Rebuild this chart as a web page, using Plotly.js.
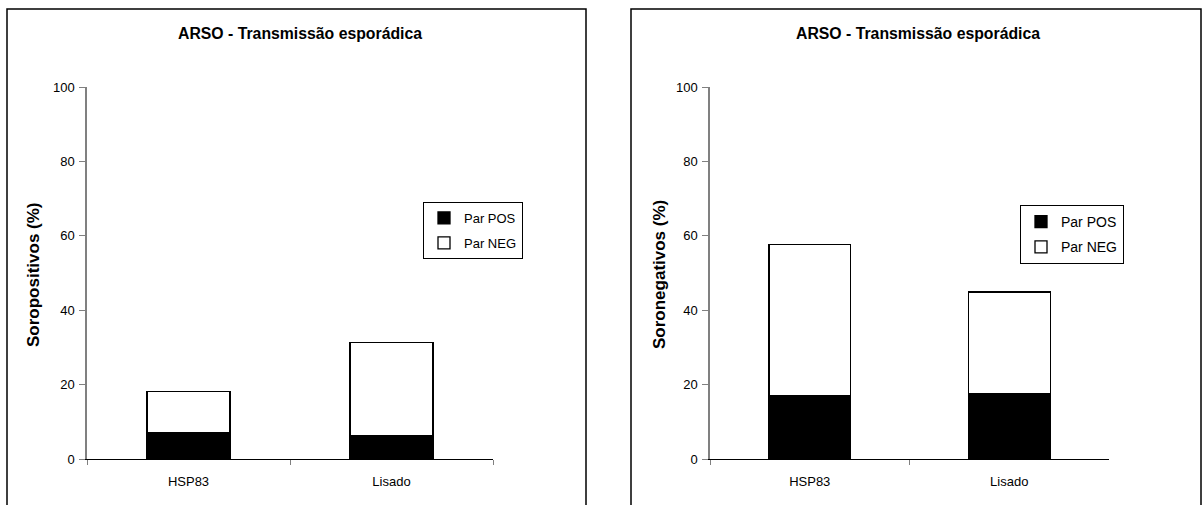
<!DOCTYPE html>
<html>
<head>
<meta charset="utf-8">
<script src="https://cdn.plot.ly/plotly-3.0.1.min.js"></script>
<style>html,body{margin:0;padding:0;background:#fff;}#chart{width:1202px;height:505px;}</style>
</head>
<body>
<div id="chart"></div>
<script>
// Data
const categories = ["HSP83", "Lisado"];
const seroposPOS = [7.0, 6.3];
const seroposNEG = [11.2, 25.1];
const seronegPOS = [16.9, 17.6];
const seronegNEG = [40.8, 27.3];
const seriesNames = ["Par POS", "Par NEG"];
const chartTitle = "ARSO - Transmissão esporádica";
const yTitleLeft = "Soropositivos (%)";
const yTitleRight = "Soronegativos (%)";
const yTicks = [0, 20, 40, 60, 80, 100];

const W = 1202, H = 505;
const px = v => v / W;
const py = v => 1 - v / H;
const FONT = "Liberation Sans, Arial, sans-serif";

function barTrace(y, name, color, xa, ya, legend, group) {
  return {
    type: "bar", x: categories, y: y, name: name,
    xaxis: xa, yaxis: ya, legend: legend, legendgroup: group,
    marker: {color: color, line: {color: "#000", width: 1.3}},
    hoverinfo: "x+y+name"
  };
}

const data = [
  barTrace(seroposPOS, seriesNames[0], "#000", "x", "y", "legend", "a"),
  barTrace(seroposNEG, seriesNames[1], "#fff", "x", "y", "legend", "b"),
  barTrace(seronegPOS, seriesNames[0], "#000", "x2", "y2", "legend2", "a"),
  barTrace(seronegNEG, seriesNames[1], "#fff", "x2", "y2", "legend2", "b")
];

const yDom = [py(459), py(87)];
function yAxis() {
  return {
    domain: yDom, range: [0, 100], tickvals: yTicks, showgrid: false, zeroline: false,
    showline: true, linecolor: "#808080", linewidth: 1.5,
    ticks: "outside", ticklen: 6, tickcolor: "#808080", tickwidth: 1.2,
    tickfont: {family: FONT, size: 13, color: "#000"}, ticklabelstandoff: 2,
    fixedrange: true
  };
}
function xAxis(d) {
  return {
    domain: d, type: "category", range: [-0.5, 1.5], tickson: "boundaries",
    showgrid: false, zeroline: false, showline: true, linecolor: "#000", linewidth: 1.3,
    ticks: "outside", ticklen: 5, tickcolor: "#808080", tickwidth: 1.2,
    tickfont: {family: FONT, size: 13, color: "#000"}, ticklabelstandoff: 10,
    fixedrange: true
  };
}

const layout = {
  width: W, height: H,
  margin: {l: 0, r: 0, t: 0, b: 0},
  paper_bgcolor: "#fff", plot_bgcolor: "rgba(0,0,0,0)",
  barmode: "stack", bargap: 0.59,
  font: {family: FONT, color: "#000"},
  xaxis: Object.assign(xAxis([px(87), px(493)]), {anchor: "y"}),
  yaxis: Object.assign(yAxis(), {anchor: "x"}),
  xaxis2: Object.assign(xAxis([px(710), px(1109)]), {anchor: "y2"}),
  yaxis2: Object.assign(yAxis(), {anchor: "x2"}),
  legend: {
    x: px(423), y: py(202), xanchor: "left", yanchor: "top",
    traceorder: "grouped", tracegroupgap: 5, bgcolor: "#fff",
    bordercolor: "#000", borderwidth: 1,
    font: {family: FONT, size: 13, color: "#000"},
    itemclick: false, itemdoubleclick: false
  },
  legend2: {
    x: px(1020), y: py(205), xanchor: "left", yanchor: "top",
    traceorder: "grouped", tracegroupgap: 4, bgcolor: "#fff",
    bordercolor: "#000", borderwidth: 1,
    font: {family: FONT, size: 14, color: "#000"},
    itemclick: false, itemdoubleclick: false
  },
  shapes: [
    {type: "rect", xref: "paper", yref: "paper", x0: px(7), x1: px(586), y0: -0.05, y1: py(9),
     line: {color: "#000", width: 1.5}, fillcolor: "rgba(0,0,0,0)", layer: "below"},
    {type: "rect", xref: "paper", yref: "paper", x0: px(631), x1: px(1201), y0: -0.05, y1: py(9),
     line: {color: "#000", width: 1.5}, fillcolor: "rgba(0,0,0,0)", layer: "below"}
  ],
  annotations: [
    {text: "<b>" + chartTitle + "</b>", xref: "paper", yref: "paper", x: px(300), y: py(33),
     xanchor: "center", yanchor: "middle", showarrow: false, font: {family: FONT, size: 15.8, color: "#000"}},
    {text: "<b>" + chartTitle + "</b>", xref: "paper", yref: "paper", x: px(918), y: py(33),
     xanchor: "center", yanchor: "middle", showarrow: false, font: {family: FONT, size: 15.8, color: "#000"}},
    {text: "<b>" + yTitleLeft + "</b>", xref: "paper", yref: "paper", x: px(33), y: py(275),
     xanchor: "center", yanchor: "middle", textangle: -90, showarrow: false, font: {family: FONT, size: 17, color: "#000"}},
    {text: "<b>" + yTitleRight + "</b>", xref: "paper", yref: "paper", x: px(659), y: py(275),
     xanchor: "center", yanchor: "middle", textangle: -90, showarrow: false, font: {family: FONT, size: 17, color: "#000"}}
  ]
};

Plotly.newPlot("chart", data, layout, {displayModeBar: false, staticPlot: false, responsive: false});
</script>
</body>
</html>
